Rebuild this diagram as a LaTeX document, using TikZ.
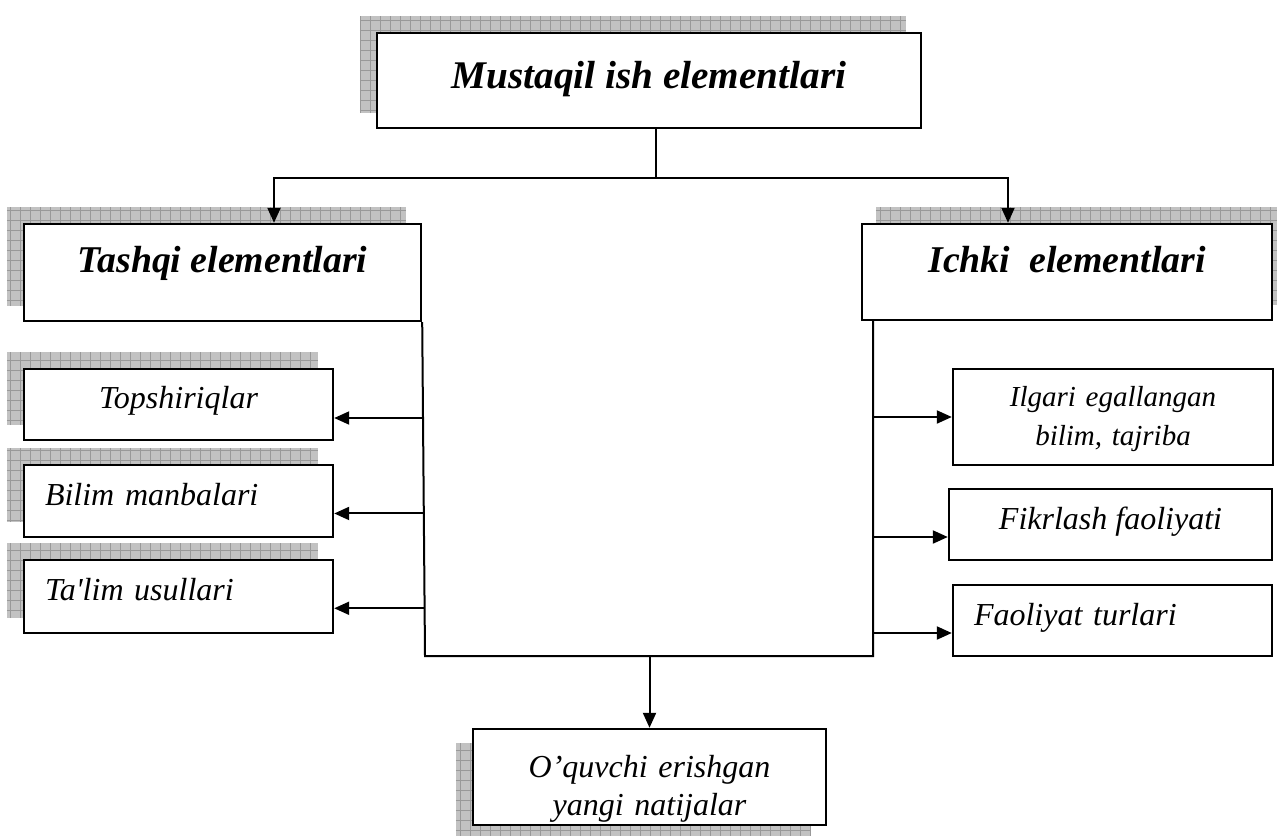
\documentclass[tikz,border=0pt]{standalone}
\usepackage{fontspec}
\setmainfont{Liberation Serif}
\usetikzlibrary{arrows.meta,backgrounds}
\tikzset{box/.style={rectangle, draw, fill=white, line width=1.2pt, inner sep=0pt}}
\tikzset{head/.style={font=\bfseries\itshape\fontsize{18.9}{22}\selectfont}}
\tikzset{part/.style={font=\itshape\fontsize{16}{19}\selectfont}}
\tikzset{link/.style={line width=1pt}}
\tikzset{->-/.style={link, -{Triangle[length=7.5pt,width=6.5pt]}}}
\tikzset{shadefill/.style={fill=black!24}}
\tikzset{shadegrid/.style={draw=black!40, line width=0.5pt, step=5pt}}
\newcommand{\dropshade}[3]{%
  \fill[shadefill] ([shift={(#2,#3)}]#1.south west) rectangle ([shift={(#2,#3)}]#1.north east);
  \draw[shadegrid] ([shift={(#2,#3)}]#1.south west) grid ([shift={(#2,#3)}]#1.north east);}

\begin{document}
\begin{tikzpicture}[x=0.5pt,y=-0.5pt]
  \useasboundingbox (0,0) rectangle (1277,835);
  % main boxes
  \node[box,head,font=\bfseries\itshape\fontsize{19.6}{23}\selectfont,minimum width=272pt,minimum height=47.5pt,text height=10.5pt,text depth=3pt] (mus) at (649,80.5) {Mustaqil ish elementlari};
  \node[box,head,minimum width=198.5pt,minimum height=48.5pt,text height=5pt,text depth=5pt] (tashqi) at (222.5,272.5) {Tashqi elementlari};
  \node[box,head,minimum width=205pt,minimum height=48pt,text height=5pt,text depth=5pt] (ichki) at (1067,272) {Ichki\ \ elementlari};
  % left column
  \node[box,part,minimum width=154.5pt,minimum height=35.5pt,text height=6.5pt,text depth=3pt] (topsh) at (178.5,404.5) {Topshiriqlar};
  \node[box,part,minimum width=154.5pt,minimum height=36pt,text height=7pt,text depth=3pt,text width=133.5pt,align=left] (bilim) at (178.5,501) {Bilim manbalari};
  \node[box,part,minimum width=154.5pt,minimum height=36.5pt,text height=6.5pt,text depth=3pt,text width=133.5pt,align=left] (talim) at (178.5,596.5) {Ta\textquotesingle lim usullari};
  % right column
  \node[box,part,font=\itshape\fontsize{14.5}{19.5}\selectfont,minimum width=160pt,minimum height=48pt,text height=2pt,text depth=13pt,text width=150pt,align=center] (ilg) at (1113,417) {Ilgari egallangan\\bilim, tajriba};
  \node[box,part,minimum width=161.5pt,minimum height=35.5pt,text height=7.5pt,text depth=3pt] (fik) at (1110.5,524.5) {Fikrlash faoliyati};
  \node[box,part,minimum width=159.5pt,minimum height=35.5pt,text height=7.5pt,text depth=3pt,text width=138.5pt,align=left] (faol) at (1112.5,620.5) {Faoliyat turlari};
  % result
  \node[box,part,minimum width=176.5pt,minimum height=48pt,text height=5pt,text depth=5pt,text width=166pt,align=center] (nat) at (649.5,777) {O’quvchi erishgan\\yangi natijalar};

  \begin{scope}[on background layer]
    \dropshade{mus}{-16}{-16}
    \dropshade{tashqi}{-16}{-16}
    \dropshade{ichki}{15}{-16}
    \dropshade{topsh}{-16}{-16}
    \dropshade{bilim}{-16}{-16}
    \dropshade{talim}{-16}{-16}
    \dropshade{nat}{-16}{15}
  \end{scope}

  \coordinate (hub) at ([xshift=3.5pt,yshift=-24.5pt]mus.south);
  \draw[link] ([xshift=3.5pt]mus.south) -- (hub);
  \draw[->-] (hub) -| ([xshift=25.75pt]tashqi.north);
  \draw[->-] (hub) -| ([xshift=-29.5pt]ichki.north);

  \coordinate (lb) at (425,656);
  \coordinate (rb) at (873,656);
  \draw[link] (tashqi.south east) -- coordinate[pos=.287] (b1) coordinate[pos=.573] (b2) coordinate[pos=.857] (b3) (lb) -- (rb) -- (rb |- ichki.south);
  \draw[->-] (b1) -- (b1 -| topsh.east);
  \draw[->-] (b2) -- (b2 -| bilim.east);
  \draw[->-] (b3) -- (b3 -| talim.east);
  \draw[->-] (ilg.west -| rb) -- (ilg.west);
  \draw[->-] ([yshift=-6.25pt]fik.west -| rb) -- ([yshift=-6.25pt]fik.west);
  \draw[->-] ([yshift=-6.25pt]faol.west -| rb) -- ([yshift=-6.25pt]faol.west);
  \draw[->-] (nat.north |- lb) -- (nat.north);
\end{tikzpicture}
\end{document}
